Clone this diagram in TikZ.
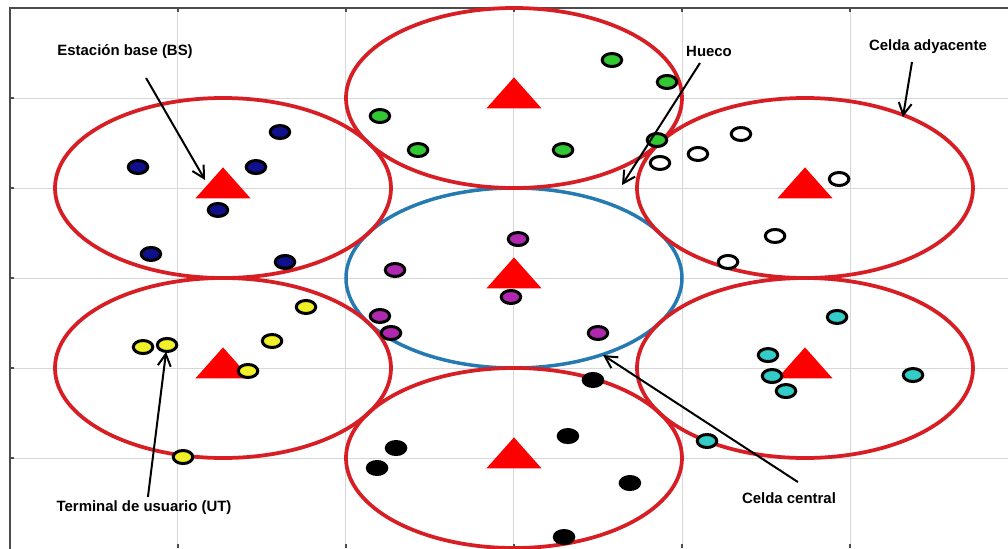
\documentclass[tikz,border=0pt]{standalone}
\usepackage{fontspec}
\setmainfont{Liberation Sans}
\usetikzlibrary{arrows.meta}

\definecolor{rojocelda}{RGB}{214,30,36}
\definecolor{azulcelda}{RGB}{38,122,178}
\definecolor{rejilla}{RGB}{215,215,215}
\definecolor{uazul}{RGB}{16,16,140}
\definecolor{uverde}{RGB}{50,200,50}
\definecolor{uamarillo}{RGB}{240,240,40}
\definecolor{umagenta}{RGB}{175,40,175}
\definecolor{ucian}{RGB}{50,205,200}

\tikzset{
  celda/.style={draw=rojocelda, line width=0.75mm},
  celdacentral/.style={draw=azulcelda, line width=0.7mm},
  ut/.style={draw=black, line width=0.6mm, fill=#1},
  etiqueta/.style={font=\fontsize{8.5}{10}\selectfont\bfseries, inner sep=1pt},
  flecha/.style={->, line width=0.4mm}
}

% estacion base: triangulo rojo con el centroide en el punto
\newcommand{\bsmark}[1]{\fill[red] (#1) ++(-0.164,-0.115) -- ++(0.328,0) -- ++(-0.164,0.344) -- cycle;}

\begin{document}
\begin{tikzpicture}[x=3.36cm, y=1.8cm, >={Straight Barb[length=2.4mm,width=2.6mm]}]
  \useasboundingbox (-3.0595,-3) rectangle (2.9405,3.0889);
  \clip (-3.0595,-3) rectangle (2.9405,3.0889);
  \fill[white] (-3.0595,-3) rectangle (2.9405,3.0889);

  % rejilla y ejes
  \foreach \t in {-2,...,2} {
    \draw[rejilla, line width=0.2mm] (\t,-3) -- (\t,3);
    \draw[rejilla, line width=0.2mm] (-3,\t) -- (3,\t);
    \draw[black!70, line width=0.3mm] (\t,3) -- (\t,2.955);
    \draw[black!70, line width=0.3mm] (\t,-3) -- (\t,-2.955);
    \draw[black!70, line width=0.3mm] (-3,\t) -- (-2.975,\t);
  }
  \draw[black!70, line width=0.45mm] (-3,-3.1) -- (-3,3) -- (3.1,3);

  % centros de celda (vecinas a distancia 2)
  \coordinate (cen) at (0,0);
  \foreach \nombre/\ang in {supder/30, sup/90, supizq/150, infizq/210, inf/270, infder/330}
    \coordinate (\nombre) at (\ang:2);

  % celdas
  \draw[celdacentral] (cen) circle (1);
  \foreach \c in {supder, sup, supizq, infizq, inf, infder}
    \draw[celda] (\c) circle (1);

  % estaciones base
  \foreach \c in {cen, supder, sup, supizq, infizq, inf, infder}
    {\bsmark{\c}}

  % terminales de usuario
  \foreach \p in {(-1.393,1.622), (-2.238,1.233), (-1.536,1.233), (-1.762,0.756), (-2.161,0.267), (-1.363,0.178)}
    \filldraw[ut=uazul] \p ellipse [x radius=1.95mm, y radius=1.3mm];
  \foreach \p in {(0.583,2.422), (0.911,2.178), (-0.798,1.800), (-0.571,1.422), (0.292,1.422), (0.851,1.533)}
    \filldraw[ut=uverde] \p ellipse [x radius=1.95mm, y radius=1.3mm];
  \foreach \p in {(1.351,1.600), (1.095,1.378), (0.869,1.278), (1.935,1.100), (1.554,0.467), (1.274,0.178)}
    \filldraw[ut=white] \p ellipse [x radius=1.95mm, y radius=1.3mm];
  \foreach \p in {(0.024,0.433), (-0.708,0.089), (-0.018,-0.211), (-0.798,-0.422), (-0.732,-0.611), (0.500,-0.611)}
    \filldraw[ut=umagenta] \p ellipse [x radius=1.95mm, y radius=1.3mm];
  \foreach \p in {(-1.238,-0.322), (-2.208,-0.767), (-2.065,-0.744), (-1.440,-0.700), (-1.583,-1.033), (-1.970,-1.989)}
    \filldraw[ut=uamarillo] \p ellipse [x radius=1.95mm, y radius=1.3mm];
  \foreach \p in {(0.470,-1.133), (0.321,-1.756), (-0.702,-1.889), (-0.815,-2.111), (0.690,-2.278), (0.298,-2.878)}
    \filldraw[ut=black] \p ellipse [x radius=1.95mm, y radius=1.3mm];
  \foreach \p in {(1.923,-0.433), (1.512,-0.856), (1.536,-1.089), (1.619,-1.256), (2.375,-1.078), (1.149,-1.811)}
    \filldraw[ut=ucian] \p ellipse [x radius=1.95mm, y radius=1.3mm];

  % etiquetas
  \node[etiqueta] (lbs)  at (-2.315,2.511) {Estación base (BS)};
  \node[etiqueta] (lhue) at (1.161,2.522)  {Hueco};
  \node[etiqueta] (lady) at (2.464,2.567)  {Celda adyacente};
  \node[etiqueta] (lut)  at (-2.202,-2.556) {Terminal de usuario (UT)};
  \node[etiqueta] (lcen) at (1.637,-2.444) {Celda central};

  % puntas de las flechas
  \coordinate (abs)  at (-1.839,1.089);
  \coordinate (ahue) at (0.643,1.033);
  \coordinate (aady) at (2.315,1.789);
  \coordinate (aut)  at (-2.071,-0.822);
  \coordinate (acen) at (0.530,-0.856);

  \draw[flecha] ([shift={(0.125,-0.289)}]lbs.center) -- (abs);
  \draw[flecha] ([shift={(-0.054,-0.133)}]lhue.center) -- (ahue);
  \draw[flecha] ([shift={(-0.095,-0.167)}]lady.center) -- (aady);
  \draw[flecha] ([shift={(0.023,0.123)}]lut.center) -- (aut);
  \draw[flecha] ([shift={(0.053,0.177)}]lcen.center) -- (acen);
\end{tikzpicture}
\end{document}
